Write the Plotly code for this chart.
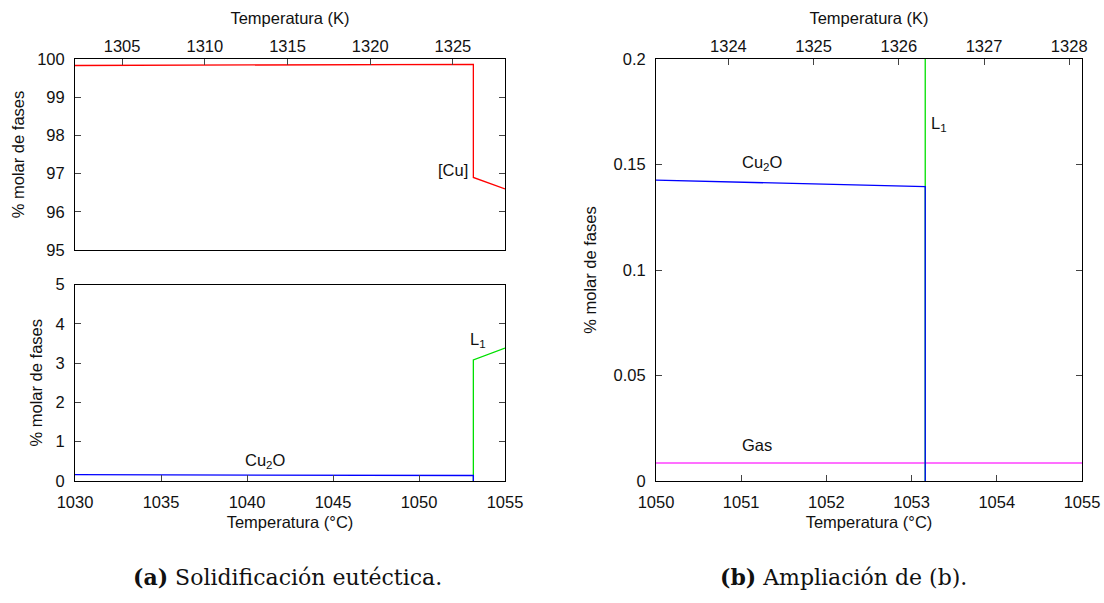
import plotly.graph_objects as go

# ---- data (temperatures in °C, molar phase percentages) ----
cu_T = [1030, 1053.16, 1053.16, 1055]
cu_v = [99.83, 99.86, 96.9, 96.6]

l1_T = [1053.16, 1053.16, 1055]
l1_v = [0.0, 3.08, 3.38]

cu2o_T = [1030, 1050, 1053.16, 1053.16]
cu2o_v = [0.162, 0.1427, 0.1395, 0.0]

gas_T = [1030, 1055]
gas_v = [0.0085, 0.0085]

K_OFFSET = 273.15

RED = "#ff0000"
GREEN = "#00e000"
BLUE = "#0000ff"
MAGENTA = "#ff40ff"
FONT = "Liberation Sans, Arial, Helvetica, sans-serif"
FS = 16.5

fig = go.Figure()

# top-left: [Cu]
fig.add_trace(go.Scatter(x=cu_T, y=cu_v, mode="lines", line=dict(color=RED, width=1.3),
                         xaxis="x", yaxis="y", showlegend=False, hoverinfo="skip"))
# invisible companion trace for the top Kelvin axis (left)
fig.add_trace(go.Scatter(x=[t + K_OFFSET for t in cu_T], y=cu_v, mode="lines",
                         line=dict(color="rgba(0,0,0,0)", width=0),
                         xaxis="x4", yaxis="y", showlegend=False, hoverinfo="skip"))

# bottom-left: L1 and Cu2O
fig.add_trace(go.Scatter(x=l1_T, y=l1_v, mode="lines", line=dict(color=GREEN, width=1.3),
                         xaxis="x2", yaxis="y2", showlegend=False, hoverinfo="skip"))
fig.add_trace(go.Scatter(x=cu2o_T, y=cu2o_v, mode="lines", line=dict(color=BLUE, width=1.3),
                         xaxis="x2", yaxis="y2", showlegend=False, hoverinfo="skip"))

# right: zoom
fig.add_trace(go.Scatter(x=gas_T, y=gas_v, mode="lines", line=dict(color=MAGENTA, width=1.5),
                         xaxis="x3", yaxis="y3", showlegend=False, hoverinfo="skip"))
fig.add_trace(go.Scatter(x=l1_T, y=l1_v, mode="lines", line=dict(color=GREEN, width=1.3),
                         xaxis="x3", yaxis="y3", showlegend=False, hoverinfo="skip"))
fig.add_trace(go.Scatter(x=cu2o_T, y=cu2o_v, mode="lines", line=dict(color=BLUE, width=1.3),
                         xaxis="x3", yaxis="y3", showlegend=False, hoverinfo="skip"))
fig.add_trace(go.Scatter(x=[t + K_OFFSET for t in gas_T], y=gas_v, mode="lines",
                         line=dict(color="rgba(0,0,0,0)", width=0),
                         xaxis="x5", yaxis="y3", showlegend=False, hoverinfo="skip"))

tickfont = dict(family=FONT, size=FS, color="#111")
titlefont = dict(family=FONT, size=FS, color="#111")

common = dict(showgrid=False, zeroline=False, linecolor="black", linewidth=1,
              tickcolor="#444", ticklen=6, tickwidth=1, tickfont=tickfont, automargin=False)

LX = [75 / 1104, 505 / 1104]
RX = [656 / 1104, 1082 / 1104]
TOPY = [1 - 250 / 603, 1 - 59 / 603]
BOTY = [1 - 481 / 603, 1 - 284.5 / 603]
RY = [1 - 481 / 603, 1 - 59 / 603]

fig.update_layout(
    width=1104, height=603,
    margin=dict(l=0, r=0, t=0, b=0),
    paper_bgcolor="white", plot_bgcolor="white",
    font=dict(family=FONT, size=FS, color="#111"),
    xaxis=dict(domain=LX, anchor="y", range=[1030, 1055], showticklabels=False, ticks="",
               showline=True, mirror=True, **common),
    xaxis4=dict(overlaying="x", side="top", anchor="y", range=[1302.15, 1328.15], dtick=5,
                tick0=1300, ticks="inside", ticklabelstandoff=3, showline=False,
                title=dict(text="Temperatura (K)", font=titlefont, standoff=7), **common),
    yaxis=dict(domain=TOPY, anchor="x", range=[95, 100], dtick=1, ticks="inside", mirror="ticks",
               showline=True, ticklabelstandoff=6,
               title=dict(text="% molar de fases", font=titlefont, standoff=8), **common),
    xaxis2=dict(domain=LX, anchor="y2", range=[1030, 1055], dtick=5, ticks="inside", mirror=True,
                showline=True, ticklabelstandoff=6,
                title=dict(text="Temperatura (°C)", font=titlefont, standoff=6), **common),
    yaxis2=dict(domain=BOTY, anchor="x2", range=[0, 5], dtick=1, ticks="inside", mirror="ticks",
                showline=True, ticklabelstandoff=6,
                title=dict(text="% molar de fases", font=titlefont, standoff=8), **common),
    xaxis3=dict(domain=RX, anchor="y3", range=[1050, 1055], dtick=1, ticks="inside", mirror=True,
                showline=True, ticklabelstandoff=6,
                title=dict(text="Temperatura (°C)", font=titlefont, standoff=6), **common),
    xaxis5=dict(overlaying="x3", side="top", anchor="y3", range=[1323.15, 1328.15], dtick=1,
                ticks="inside", ticklabelstandoff=3, showline=False,
                title=dict(text="Temperatura (K)", font=titlefont, standoff=7), **common),
    yaxis3=dict(domain=RY, anchor="x3", range=[0, 0.2], dtick=0.05, ticks="inside", mirror="ticks",
                showline=True, ticklabelstandoff=6,
                title=dict(text="% molar de fases", font=titlefont, standoff=12), **common),
)

ann_font = dict(family=FONT, size=FS, color="#111")
cap_font = dict(family="DejaVu Serif", size=22, color="#111")
annotations = [
    dict(x=1052.95, y=97.1, xref="x", yref="y", text="[Cu]", showarrow=False,
         xanchor="right", yanchor="middle", font=ann_font),
    dict(x=1052.85, y=3.6, xref="x2", yref="y2", text="L<sub>1</sub>", showarrow=False,
         xanchor="left", yanchor="middle", font=ann_font),
    dict(x=1041.1, y=0.5, xref="x2", yref="y2", text="Cu<sub>2</sub>O", showarrow=False,
         xanchor="center", yanchor="middle", font=ann_font),
    dict(x=1053.2, y=0.169, xref="x3", yref="y3", text="L<sub>1</sub>", showarrow=False,
         xanchor="left", yanchor="middle", font=ann_font),
    dict(x=1051.25, y=0.1505, xref="x3", yref="y3", text="Cu<sub>2</sub>O", showarrow=False,
         xanchor="center", yanchor="middle", font=ann_font),
    dict(x=1051.18, y=0.017, xref="x3", yref="y3", text="Gas", showarrow=False,
         xanchor="center", yanchor="middle", font=ann_font),
    dict(x=287 / 1104, y=1 - 577 / 603, xref="paper", yref="paper",
         text="<b>(a)</b> Solidificación eutéctica.", showarrow=False,
         xanchor="center", yanchor="middle", font=cap_font),
    dict(x=843 / 1104, y=1 - 577 / 603, xref="paper", yref="paper",
         text="<b>(b)</b> Ampliación de (b).", showarrow=False,
         xanchor="center", yanchor="middle", font=cap_font),
]
fig.update_layout(annotations=annotations)

fig.write_html("out.html")
